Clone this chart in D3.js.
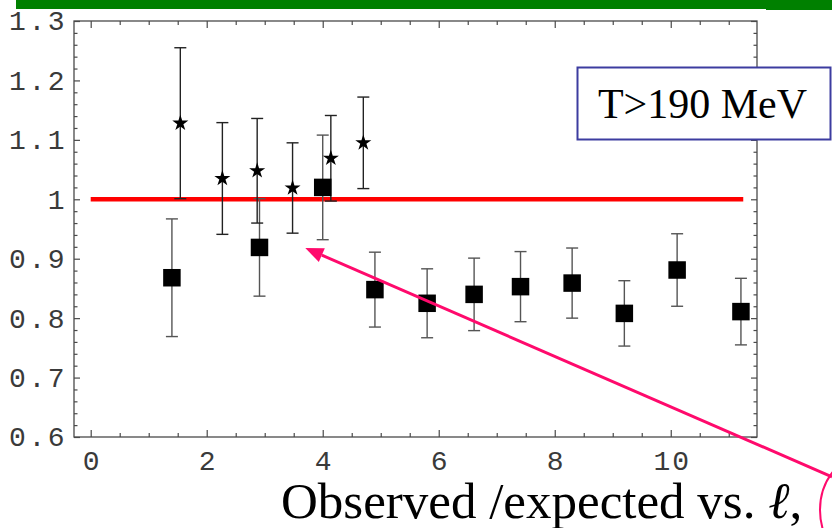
<!DOCTYPE html>
<html>
<head>
<meta charset="utf-8">
<script src="https://cdn.jsdelivr.net/npm/d3@7/dist/d3.min.js"></script>
<style>
  html, body { margin: 0; padding: 0; background: #fff; }
  svg { display: block; }
</style>
</head>
<body>
<svg id="chart" width="832" height="528"></svg>
<script>
// Multipole index ℓ and observed/expected ratio, with symmetric errors
const squareL   = [1.40, 2.91, 4.00, 4.90, 5.80, 6.61, 7.41, 8.30, 9.20, 10.11, 11.21];
const squareVal = [0.868, 0.919, 1.020, 0.848, 0.825, 0.840, 0.853, 0.859, 0.808, 0.881, 0.811];
const squareErr = [0.099, 0.082, 0.088, 0.063, 0.058, 0.061, 0.059, 0.059, 0.055, 0.061, 0.056];

const starL   = [1.545, 2.27, 2.87, 3.48, 4.14, 4.70];
const starVal = [1.128, 1.035, 1.048, 1.019, 1.069, 1.095];
const starErr = [0.127, 0.094, 0.088, 0.076, 0.072, 0.077];

// Reference line at ratio = 1
const refLineL = [0, 11.25];
const refValue = 1;

// Tick values
const xMajorTicks = [0, 2, 4, 6, 8, 10];
const yMajorTicks = [0.6, 0.7, 0.8, 0.9, 1, 1.1, 1.2, 1.3];
const yTickLabels = ["0.6", "0.7", "0.8", "0.9", "1", "1.1", "1.2", "1.3"];

// Annotation arrow (from off the lower right toward the ℓ≈3.7 region)
const arrowFrom = [12.78, 0.533];
const arrowTo   = [3.70, 0.918];

const boxText = "T>190 MeV";
const axisText = "Observed /expected vs. ";

const svg = d3.select("#chart");
const pink = "#ff0a6c";
const frameColor = "#4a4a4a";

const x = d3.scaleLinear().domain([-0.288, 11.487]).range([74, 757]);
const y = d3.scaleLinear().domain([0.6, 1.3]).range([437, 21]);

// Green banner along the top
svg.append("rect").attr("x", 16).attr("y", 0).attr("width", 750).attr("height", 9).attr("fill", "#008000");
svg.append("rect").attr("x", 766).attr("y", 0).attr("width", 66).attr("height", 10).attr("fill", "#008000");

// Frame
const [x0, x1] = x.range();
const [y0, y1] = y.range();
svg.append("rect")
  .attr("x", x0).attr("y", y1).attr("width", x1 - x0).attr("height", y0 - y1)
  .attr("fill", "none").attr("stroke", frameColor).attr("stroke-width", 1.3);

const xMinor = d3.range(0, 11.5, 0.5).filter(v => !xMajorTicks.includes(v));
const yMinor = d3.range(0.6, 1.3001, 0.02).map(v => +v.toFixed(2))
  .filter(v => !yMajorTicks.some(t => Math.abs(t - v) < 1e-6));

const tickFont = "'Liberation Mono', 'Courier New', monospace";
const tickSize = 28;

function styleAxis(g) {
  g.select(".domain").remove();
  g.selectAll(".tick line").attr("stroke", frameColor).attr("stroke-width", 1.2);
}

// Bottom axis with labels
svg.append("g").attr("transform", `translate(0,${y0})`)
  .call(d3.axisBottom(x).tickValues(xMajorTicks).tickSizeInner(-7).tickSizeOuter(0).tickPadding(13).tickFormat(d3.format("d")))
  .call(styleAxis)
  .call(g => g.selectAll("text").attr("font-family", tickFont).attr("font-size", tickSize).attr("fill", "#3a3a3a")
        .attr("letter-spacing", 2).attr("dx", 1).attr("dy", "0.71em"));
svg.append("g").attr("transform", `translate(0,${y0})`)
  .call(d3.axisBottom(x).tickValues(xMinor).tickSizeInner(-4).tickSizeOuter(0).tickFormat(""))
  .call(styleAxis);
// Top axis (ticks only)
svg.append("g").attr("transform", `translate(0,${y1})`)
  .call(d3.axisTop(x).tickValues(xMajorTicks).tickSizeInner(-7).tickSizeOuter(0).tickFormat(""))
  .call(styleAxis);
svg.append("g").attr("transform", `translate(0,${y1})`)
  .call(d3.axisTop(x).tickValues(xMinor).tickSizeInner(-4).tickSizeOuter(0).tickFormat(""))
  .call(styleAxis);

// Left axis with labels
svg.append("g").attr("transform", `translate(${x0},0)`)
  .call(d3.axisLeft(y).tickValues(yMajorTicks).tickSizeInner(-6).tickSizeOuter(0).tickPadding(9)
        .tickFormat((d, i) => yTickLabels[i]))
  .call(styleAxis)
  .call(g => g.selectAll("text").attr("font-family", tickFont).attr("font-size", tickSize).attr("fill", "#3a3a3a")
        .attr("letter-spacing", 2.5).attr("x", -7));
svg.append("g").attr("transform", `translate(${x0},0)`)
  .call(d3.axisLeft(y).tickValues(yMinor).tickSizeInner(-3.5).tickSizeOuter(0).tickFormat(""))
  .call(styleAxis);
// Right axis (ticks only)
svg.append("g").attr("transform", `translate(${x1},0)`)
  .call(d3.axisRight(y).tickValues(yMajorTicks).tickSizeInner(-6).tickSizeOuter(0).tickFormat(""))
  .call(styleAxis);
svg.append("g").attr("transform", `translate(${x1},0)`)
  .call(d3.axisRight(y).tickValues(yMinor).tickSizeInner(-3.5).tickSizeOuter(0).tickFormat(""))
  .call(styleAxis);

// Reference line
svg.append("line")
  .attr("x1", x(refLineL[0])).attr("x2", x(refLineL[1]))
  .attr("y1", y(refValue)).attr("y2", y(refValue))
  .attr("stroke", "#ff0000").attr("stroke-width", 4.5);

// Error bars
function errorBars(ls, vals, errs, color) {
  const g = svg.append("g").attr("stroke", color).attr("stroke-width", 1.4).attr("fill", "none");
  ls.forEach((l, i) => {
    const cx = x(l), top = y(vals[i] + errs[i]), bot = y(vals[i] - errs[i]);
    g.append("line").attr("x1", cx).attr("x2", cx).attr("y1", top).attr("y2", bot);
    g.append("line").attr("x1", cx - 6).attr("x2", cx + 6).attr("y1", top).attr("y2", top);
    g.append("line").attr("x1", cx - 6).attr("x2", cx + 6).attr("y1", bot).attr("y2", bot);
  });
}
errorBars(squareL, squareVal, squareErr, "#555");
errorBars(starL, starVal, starErr, "#222");

// Square markers
const sq = 17.5;
svg.append("g").selectAll("rect").data(squareL).join("rect")
  .attr("x", (d) => x(d) - sq / 2)
  .attr("y", (d, i) => y(squareVal[i]) - sq / 2)
  .attr("width", sq).attr("height", sq)
  .attr("fill", "#000");

// Star markers
const star = d3.symbol().type(d3.symbolStar).size(80);
svg.append("g").selectAll("path").data(starL).join("path")
  .attr("transform", (d, i) => `translate(${x(d)},${y(starVal[i])})`)
  .attr("d", star)
  .attr("fill", "#000");

// Annotation arrow
const ax1 = x(arrowFrom[0]), ay1 = y(arrowFrom[1]);
const ax2 = x(arrowTo[0]), ay2 = y(arrowTo[1]);
const ang = Math.atan2(ay1 - ay2, ax1 - ax2);
const headLen = 18, headHalf = 7.5;
const bx = ax2 + headLen * Math.cos(ang), by = ay2 + headLen * Math.sin(ang);
svg.append("line")
  .attr("x1", ax1).attr("y1", ay1).attr("x2", bx).attr("y2", by)
  .attr("stroke", pink).attr("stroke-width", 3);
svg.append("path")
  .attr("d", `M${ax2},${ay2}L${bx - headHalf * Math.sin(ang)},${by + headHalf * Math.cos(ang)}L${bx + headHalf * Math.sin(ang)},${by - headHalf * Math.cos(ang)}Z`)
  .attr("fill", pink);

// Pink ellipse at the lower right
svg.append("ellipse")
  .attr("cx", 870).attr("cy", 510).attr("rx", 50).attr("ry", 57)
  .attr("fill", "none").attr("stroke", pink).attr("stroke-width", 2);

// Temperature box
svg.append("rect")
  .attr("x", 577.5).attr("y", 67.5).attr("width", 253).attr("height", 72)
  .attr("fill", "#fff").attr("stroke", "#3c3ca0").attr("stroke-width", 2);
svg.append("text")
  .attr("x", 702.5).attr("y", 118).attr("text-anchor", "middle")
  .attr("font-family", "'Liberation Serif', 'Times New Roman', serif")
  .attr("font-size", 42).attr("fill", "#000")
  .text(boxText);

// Axis caption
const cap = svg.append("text")
  .attr("x", 281).attr("y", 518)
  .attr("font-family", "'Liberation Serif', 'Times New Roman', serif")
  .attr("font-size", 51).attr("fill", "#000");
cap.append("tspan").text(axisText);
cap.append("tspan").attr("font-style", "italic").text("ℓ");
cap.append("tspan").text(",");
</script>
</body>
</html>
